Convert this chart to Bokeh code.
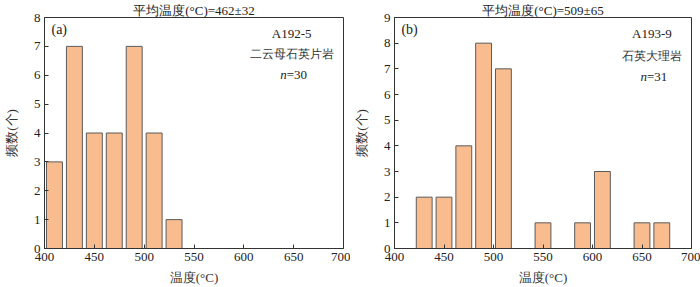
from bokeh.plotting import figure
from bokeh.layouts import row
from bokeh.models import Range1d, FixedTicker, Label
from bokeh.embed import file_html
from bokeh.resources import INLINE

# Panel (a) data
a_centers = [410, 430, 450, 470, 490, 510, 530]
a_counts = [3, 7, 4, 4, 7, 4, 1]
# Panel (b) data
b_centers = [430, 450, 470, 490, 510, 550, 590, 610, 650, 670]
b_counts = [2, 2, 4, 8, 7, 1, 1, 3, 1, 1]

x_ticks = [400, 450, 500, 550, 600, 650, 700]
a_yticks = [0, 1, 2, 3, 4, 5, 6, 7, 8]
b_yticks = [0, 1, 2, 3, 4, 5, 6, 7, 8, 9]

FONT = "Liberation Serif"
BAR_FILL = "#F9BC8F"
BAR_LINE = "#5a5a5a"


def make_panel(centers, counts, ymax, yticks, title, tag, sample, rock, n, width, left, right, pos):
    p = figure(width=width, height=287, output_backend="svg", toolbar_location=None,
               x_range=Range1d(400, 700), y_range=Range1d(0, ymax),
               min_border_left=left, min_border_right=right,
               min_border_top=15, min_border_bottom=39)
    p.title.text = title
    p.title.align = "center"
    p.title.text_font = FONT
    p.title.text_font_size = "13px"
    p.title.text_font_style = "normal"
    p.title.text_color = "#222"
    p.title.standoff = 0
    p.title.offset = 0
    p.vbar(x=centers, top=counts, width=16, fill_color=BAR_FILL,
           line_color=BAR_LINE, line_width=1)
    p.xgrid.visible = False
    p.ygrid.visible = False
    p.outline_line_color = "#333"
    p.outline_line_width = 1
    for ax in (p.xaxis[0], p.yaxis[0]):
        ax.major_tick_in = 4
        ax.major_tick_out = 0
        ax.minor_tick_line_color = None
        ax.major_label_text_font = FONT
        ax.major_label_text_font_size = "13px"
        ax.major_label_text_color = "#222"
        ax.axis_label_text_font = FONT
        ax.axis_label_text_font_size = "13px"
        ax.axis_label_text_font_style = "normal"
        ax.axis_label_text_color = "#333"
        ax.axis_line_color = "#333"
        ax.major_tick_line_color = "#333"
    p.xaxis[0].major_label_standoff = 4
    p.xaxis[0].axis_label_standoff = 6
    p.yaxis[0].major_label_standoff = 4
    p.yaxis[0].axis_label_standoff = 12
    p.xaxis[0].ticker = FixedTicker(ticks=x_ticks)
    p.yaxis[0].ticker = FixedTicker(ticks=yticks)
    p.xaxis[0].axis_label = "温度(°C)"
    p.yaxis[0].axis_label = "频数(个)"

    tx, ty, sx, sy, ry, ny = pos
    p.add_layout(Label(x=tx, y=ty, text=tag, text_font=FONT, text_font_size="14px",
                       text_align="left", text_baseline="middle", text_color="#222"))
    p.add_layout(Label(x=sx, y=sy, text=sample, text_font=FONT, text_font_size="13px",
                       text_align="center", text_baseline="middle", text_color="#222"))
    p.add_layout(Label(x=sx, y=ry, text=rock, text_font=FONT, text_font_size="12px",
                       text_align="center", text_baseline="middle", text_color="#333"))
    p.add_layout(Label(x=sx - 5, y=ny, text="n", text_font=FONT, text_font_size="13px",
                       text_font_style="italic",
                       text_align="right", text_baseline="middle", text_color="#222"))
    p.add_layout(Label(x=sx - 5, y=ny, text="=" + str(n), text_font=FONT, text_font_size="13px",
                       text_align="left", text_baseline="middle", text_color="#222"))
    return p


pa = make_panel(a_centers, a_counts, 8, a_yticks, "平均温度(°C)=462±32", "(a)",
                "A192-5", "二云母石英片岩", 30, 350, 44, 7,
                (407, 7.6, 648, 7.45, 6.72, 6.02))
pb = make_panel(b_centers, b_counts, 9, b_yticks, "平均温度(°C)=509±65", "(b)",
                "A193-9", "石英大理岩", 31, 350, 42, 9,
                (407, 8.55, 660, 8.36, 7.5, 6.7))

layout = row(pa, pb, spacing=0)
open("out.html", "w").write(file_html(layout, INLINE))
